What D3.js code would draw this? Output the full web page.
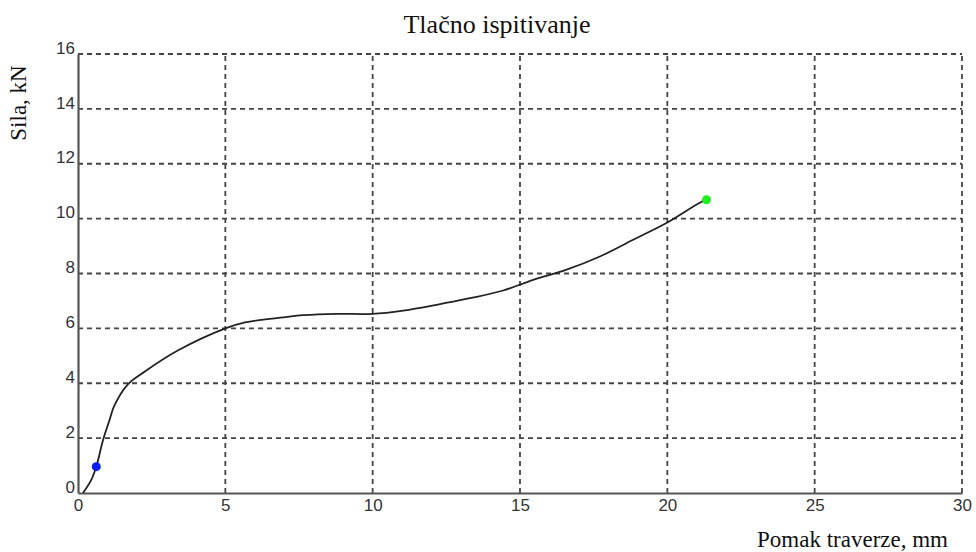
<!DOCTYPE html>
<html><head><meta charset="utf-8">
<script src="https://cdn.jsdelivr.net/npm/d3@7"></script>
<style>body{margin:0;background:#fff}svg{display:block}</style>
</head><body>
<svg id="c" width="976" height="552"></svg>
<script>
const pomak = [0.17,0.45,0.62,0.85,1.07,1.24,1.7,2.27,3.4,5.0,5.67,6.8,7.65,8.78,10.0,11.04,12.17,13.3,14.43,15.45,16.58,17.71,18.84,19.97,21.1,21.33];
const sila  = [0,0.48,0.96,1.93,2.66,3.2,3.97,4.43,5.2,6.0,6.22,6.38,6.48,6.53,6.53,6.65,6.86,7.1,7.38,7.77,8.14,8.62,9.23,9.84,10.58,10.69];
const startPt = [0.62,0.96];
const endPt = [21.33,10.69];
const xTicks = [0,5,10,15,20,25,30];
const yTicks = [0,2,4,6,8,10,12,14,16];
const title = "Tlačno ispitivanje";
const xLabel = "Pomak traverze, mm";
const yLabel = "Sila, kN";

const svg = d3.select("#c");
const x = d3.scaleLinear().domain([0,30]).range([78,962]);
const y = d3.scaleLinear().domain([0,16]).range([493,54]);

// grid
const g = svg.append("g");
g.selectAll("line.vx").data(xTicks.filter(d=>d>0)).enter().append("line")
 .attr("x1",d=>x(d)).attr("x2",d=>x(d)).attr("y1",y(0)).attr("y2",y(16))
 .attr("stroke","#444").attr("stroke-width",1.8).attr("stroke-dasharray","5,4");
g.selectAll("line.hy").data(yTicks.filter(d=>d>0)).enter().append("line")
 .attr("x1",x(0)).attr("x2",x(30)).attr("y1",d=>y(d)).attr("y2",d=>y(d))
 .attr("stroke","#444").attr("stroke-width",1.8).attr("stroke-dasharray","5,4");

// axes
const xAxis = d3.axisBottom(x).tickValues(xTicks).tickSize(0).tickPadding(6);
const yAxis = d3.axisLeft(y).tickValues(yTicks).tickSize(0).tickPadding(3);
const ax = svg.append("g").attr("transform",`translate(0,${y(0)})`).call(xAxis);
const ay = svg.append("g").attr("transform",`translate(${x(0)},0)`).call(yAxis);
[ax,ay].forEach(a=>{
  a.select(".domain").attr("stroke","#555").attr("stroke-width",2.2);
  a.selectAll("text").attr("font-family","Arial, 'Liberation Sans', sans-serif").attr("font-size",17).attr("fill","#333");
});
ay.selectAll(".tick text").attr("dy","-0.05em");

// curve
const pts = pomak.map((d,i)=>[d,sila[i]]);
svg.append("path").datum(pts)
 .attr("d",d3.line().x(d=>x(d[0])).y(d=>y(d[1])).curve(d3.curveCatmullRom.alpha(0.5)))
 .attr("fill","none").attr("stroke","#222").attr("stroke-width",1.8);
svg.append("circle").attr("cx",x(startPt[0])).attr("cy",y(startPt[1])).attr("r",4.5).attr("fill","#0a1ef0");
svg.append("circle").attr("cx",x(endPt[0])).attr("cy",y(endPt[1])).attr("r",4.5).attr("fill","#22ee22");

// texts
svg.append("text").attr("x",497).attr("y",33).attr("text-anchor","middle")
 .attr("font-family","'Liberation Serif', 'Times New Roman', serif").attr("font-size",26).attr("fill","#111").text(title);
svg.append("text").attr("x",948).attr("y",547).attr("text-anchor","end")
 .attr("font-family","'Liberation Serif', 'Times New Roman', serif").attr("font-size",23).attr("fill","#111").text(xLabel);
svg.append("text").attr("transform","translate(26,103) rotate(-90)").attr("text-anchor","middle")
 .attr("font-family","'Liberation Serif', 'Times New Roman', serif").attr("font-size",23).attr("fill","#111").text(yLabel);
</script>
</body></html>
